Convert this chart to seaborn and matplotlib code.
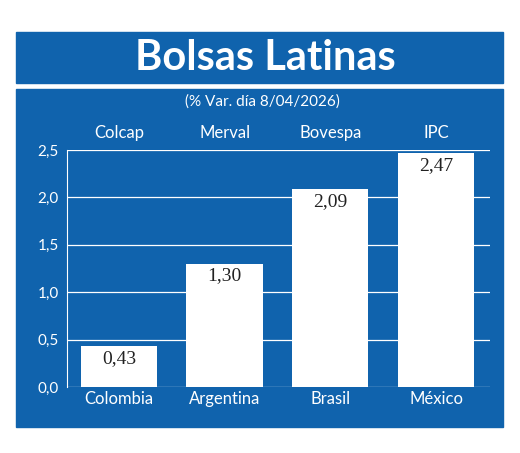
import matplotlib
matplotlib.use("Agg")
import matplotlib.pyplot as plt
import seaborn as sns
import pandas as pd
from matplotlib.patches import Rectangle

paises = ["Colombia", "Argentina", "Brasil", "México"]
indices = ["Colcap", "Merval", "Bovespa", "IPC"]
valores = [0.43, 1.30, 2.09, 2.47]
etiquetas = ["0,43", "1,30", "2,09", "2,47"]
yticks = [0.0, 0.5, 1.0, 1.5, 2.0, 2.5]
ylabels = ["0,0", "0,5", "1,0", "1,5", "2,0", "2,5"]

BLUE = "#1063ad"
W, H = 520, 453
fig = plt.figure(figsize=(W/100, H/100), dpi=100)
fig.patch.set_facecolor("white")
sans = ["Lato", "DejaVu Sans"]

def box(x0, y0, x1, y1):
    fig.patches.append(Rectangle((x0/W, 1-y1/H), (x1-x0)/W, (y1-y0)/H,
                                 transform=fig.transFigure, color=BLUE, zorder=-5))
box(16, 32, 503, 83)
box(16, 89, 503, 427)
fig.text(265/W, 1-58/H, "Bolsas Latinas", ha="center", va="center", color="white",
         fontsize=30, fontweight="bold", family=sans)
fig.text(262/W, 1-102/H, "(% Var. día 8/04/2026)", ha="center", va="center",
         color="white", fontsize=11, family=sans)

ax = fig.add_axes([67/W, 1-387/H, (490-67)/W, (387-150)/H])
ax.set_zorder(5)
ax.set_facecolor("none")
ax.patch.set_alpha(0)
df = pd.DataFrame({"pais": paises, "valor": valores})
sns.barplot(data=df, x="pais", y="valor", color="white", width=0.72, ax=ax,
            saturation=1, zorder=3)
ax.set_xlim(-0.49, 3.51)
ax.set_ylim(0, 2.5)
ax.set_yticks(yticks)
ax.set_yticklabels(ylabels, color="white", fontsize=11, family=sans)
ax.set_xticks([])
ax.set_xlabel(""); ax.set_ylabel("")
for y in yticks:
    ax.axhline(y, color="white", lw=0.9, zorder=1)
for s in ["top", "right", "bottom"]:
    ax.spines[s].set_visible(False)
ax.spines["left"].set_color("white")
ax.tick_params(axis="y", length=0, pad=6)
for i, (v, t) in enumerate(zip(valores, etiquetas)):
    ax.text(i, v - 0.04, t, ha="center", va="top", fontsize=14, color="#222222",
            family="Liberation Serif", zorder=4)
    ax.text(i, -0.04, paises[i], ha="center", va="top", fontsize=12, color="white",
            family=sans, clip_on=False)
    ax.text(i, 2.59, indices[i], ha="center", va="bottom", fontsize=12, color="white",
            family=sans, clip_on=False)

fig.savefig("out.png", dpi=100)
